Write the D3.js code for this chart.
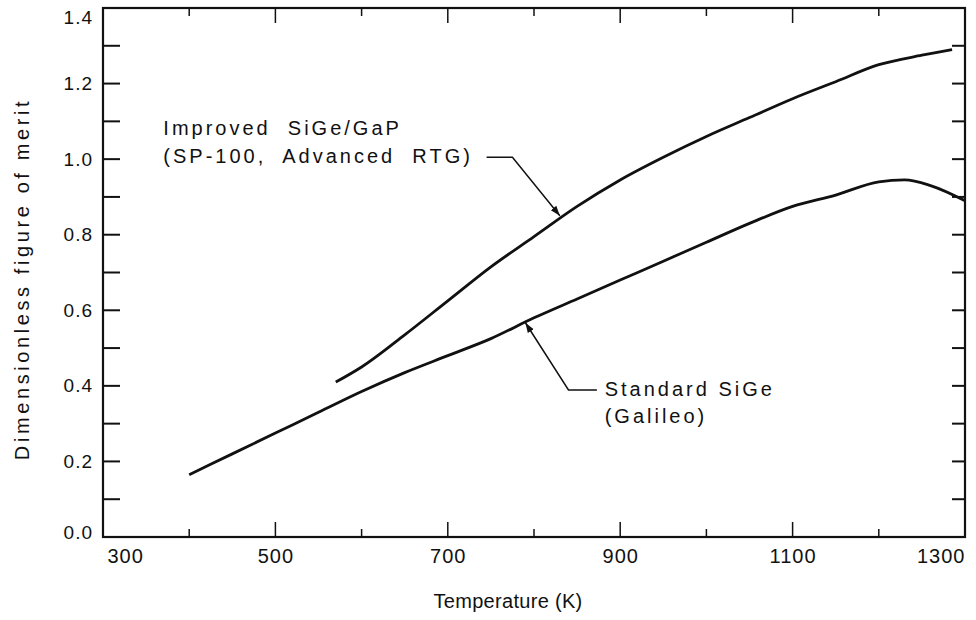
<!DOCTYPE html>
<html><head><meta charset="utf-8">
<script src="https://cdn.jsdelivr.net/npm/d3@7"></script>
<style>
html,body{margin:0;padding:0;background:#fff;}
text{font-family:"Liberation Sans",Arial,Helvetica,sans-serif;fill:#111;}
</style></head>
<body>
<svg id="c" width="976" height="620"></svg>
<script>
// ---- data ----
const improvedT = [570, 600, 650, 700, 750, 800, 850, 900, 950, 1000, 1050, 1100, 1150, 1200, 1250, 1285];
const improvedZ = [0.41, 0.45, 0.535, 0.625, 0.715, 0.795, 0.875, 0.945, 1.005, 1.06, 1.11, 1.16, 1.205, 1.25, 1.275, 1.29];
const standardT = [400, 450, 500, 550, 600, 650, 700, 750, 800, 850, 900, 950, 1000, 1050, 1100, 1150, 1200, 1230, 1260, 1300];
const standardZ = [0.165, 0.22, 0.275, 0.33, 0.385, 0.435, 0.48, 0.525, 0.58, 0.63, 0.68, 0.73, 0.78, 0.83, 0.875, 0.905, 0.94, 0.945, 0.93, 0.89];
const xTickLabels = [300, 500, 700, 900, 1100, 1300];
const yTickLabels = [0.0, 0.2, 0.4, 0.6, 0.8, 1.0, 1.2, 1.4];
const improvedLabel = ["Improved  SiGe/GaP", "(SP-100,  Advanced  RTG)"];
const standardLabel = ["Standard SiGe", "(Galileo)"];
const xTitle = "Temperature (K)";
const yTitle = "Dimensionless figure of merit";
// annotation anchors in data units: [T, Z]
const improvedLeader = [[745, 1.005], [775, 1.005], [830, 0.85]];
const improvedTextAt = [370, 1.064];
const standardLeader = [[873, 0.389], [840, 0.389], [790, 0.567]];
const standardTextAt = [882, 0.372];

// ---- layout ----
const L = 103, R = 965, T = 8, B = 537;
const svg = d3.select("#c");
const x = d3.scaleLinear().domain([300, 1300]).range([L, R]);
const y = d3.scaleLinear().domain([0, 1.4]).range([B, T]);

// frame
svg.append("rect").attr("x", L).attr("y", T).attr("width", R - L).attr("height", B - T)
  .attr("fill", "none").attr("stroke", "#111").attr("stroke-width", 2.2);

const minorX = d3.range(400, 1300, 100);
const minorY = d3.range(1, 14).map(d => d / 10);

// bottom axis labels
const bottomAxis = d3.axisBottom(x).tickValues(xTickLabels).tickSize(0).tickPadding(12)
  .tickFormat(d3.format("d"));
const gb = svg.append("g").attr("transform", `translate(0,${B})`).call(bottomAxis);
gb.select(".domain").remove();
gb.selectAll("text").attr("font-size", 20).style("letter-spacing", "1px").attr("fill", "#111");
gb.selectAll(".tick").filter(d => d === 300).select("text").attr("text-anchor", "start").attr("dx", 4);
gb.selectAll(".tick").filter(d => d === 1300).select("text").attr("text-anchor", "end");

// bottom & top inward ticks
svg.append("g").selectAll("line").data(minorX).join("line")
  .attr("x1", d => x(d)).attr("x2", d => x(d))
  .attr("y1", B).attr("y2", d => B - (d % 200 === 100 ? 15 : 8))
  .attr("stroke", "#111").attr("stroke-width", 1.5);
svg.append("g").selectAll("line").data(minorX).join("line")
  .attr("x1", d => x(d)).attr("x2", d => x(d))
  .attr("y1", T).attr("y2", d => T + (d % 200 === 100 ? 15 : 8))
  .attr("stroke", "#111").attr("stroke-width", 1.5);

// left axis labels
const leftAxis = d3.axisLeft(y).tickValues(yTickLabels).tickSize(0).tickPadding(10)
  .tickFormat(d3.format(".1f"));
const gl = svg.append("g").attr("transform", `translate(${L},0)`).call(leftAxis);
gl.select(".domain").remove();
gl.selectAll("text").attr("font-size", 19).style("letter-spacing", "1px").attr("fill", "#111");
gl.selectAll(".tick").filter(d => d === 0).select("text").attr("dy", "0.1em");
gl.selectAll(".tick").filter(d => d === 1.4).select("text").attr("dy", "0.8em");

// left & right inward ticks
svg.append("g").selectAll("line").data(minorY).join("line")
  .attr("x1", L).attr("x2", L + 17)
  .attr("y1", d => y(d)).attr("y2", d => y(d))
  .attr("stroke", "#111").attr("stroke-width", 2);
svg.append("g").selectAll("line").data(minorY).join("line")
  .attr("x1", R).attr("x2", R - 13)
  .attr("y1", d => y(d)).attr("y2", d => y(d))
  .attr("stroke", "#111").attr("stroke-width", 2);

// curves
const line = d3.line().x(d => x(d[0])).y(d => y(d[1])).curve(d3.curveMonotoneX);
svg.append("path").datum(improvedT.map((t, i) => [t, improvedZ[i]]))
  .attr("d", line).attr("fill", "none").attr("stroke", "#111").attr("stroke-width", 2.8);
svg.append("path").datum(standardT.map((t, i) => [t, standardZ[i]]))
  .attr("d", line).attr("fill", "none").attr("stroke", "#111").attr("stroke-width", 2.8);

// arrow marker
svg.append("defs").append("marker").attr("id", "ah")
  .attr("viewBox", "0 0 10 10").attr("refX", 10).attr("refY", 5)
  .attr("markerWidth", 10).attr("markerHeight", 10).attr("orient", "auto")
  .attr("markerUnits", "userSpaceOnUse")
  .append("path").attr("d", "M0,1.5 L10,5 L0,8.5 Z").attr("fill", "#111");

const pts = arr => arr.map(p => [x(p[0]), y(p[1])].join(",")).join(" ");

// annotation: improved
svg.append("polyline").attr("points", pts(improvedLeader))
  .attr("fill", "none").attr("stroke", "#111").attr("stroke-width", 1.5).attr("marker-end", "url(#ah)");
const ti = svg.append("text").attr("y", y(improvedTextAt[1])).attr("font-size", 20)
  .style("letter-spacing", "3px").style("white-space", "pre");
ti.append("tspan").attr("x", x(improvedTextAt[0])).text(improvedLabel[0]);
ti.append("tspan").attr("x", x(improvedTextAt[0])).attr("dy", 28).text(improvedLabel[1]);

// annotation: standard
svg.append("polyline").attr("points", pts(standardLeader))
  .attr("fill", "none").attr("stroke", "#111").attr("stroke-width", 1.5).attr("marker-end", "url(#ah)");
const ts = svg.append("text").attr("y", y(standardTextAt[1])).attr("font-size", 20)
  .style("letter-spacing", "3px");
ts.append("tspan").attr("x", x(standardTextAt[0])).text(standardLabel[0]);
ts.append("tspan").attr("x", x(standardTextAt[0])).attr("dy", 27).text(standardLabel[1]);

// axis titles
svg.append("text").attr("x", 508).attr("y", 608).attr("text-anchor", "middle")
  .attr("font-size", 20).style("letter-spacing", "0.3px").text(xTitle);
svg.append("text").attr("transform", `translate(29,279) rotate(-90)`)
  .attr("text-anchor", "middle").attr("font-size", 20).style("letter-spacing", "3.6px").text(yTitle);
</script>
</body></html>
